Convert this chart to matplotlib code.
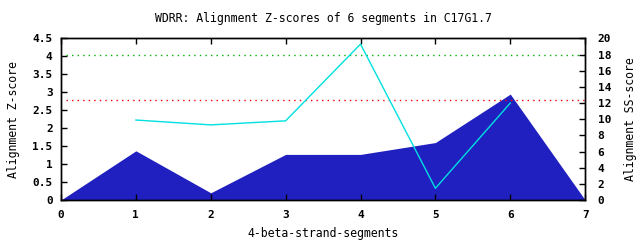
import matplotlib
matplotlib.use('Agg')
import matplotlib.pyplot as plt

# Z-scores per segment boundary (0 and 7 are the anchors)
z_x = [0, 1, 2, 3, 4, 5, 6, 7]
z_scores = [0, 1.37, 0.2, 1.27, 1.27, 1.6, 2.95, 0]

# SS-scores (right axis)
ss_x = [1, 2, 3, 4, 5, 6]
ss_scores = [9.9, 9.3, 9.8, 19.3, 1.45, 12.0]

# threshold lines (Z-score units)
green_thr = 4.04
red_thr = 2.78

plt.rcParams['font.family'] = 'DejaVu Sans Mono'
plt.rcParams['font.weight'] = 'bold'
plt.rcParams['font.size'] = 8

fig = plt.figure(figsize=(6.4, 2.4), dpi=100)
ax = fig.add_axes([0.0953, 0.1667, 0.819, 0.673])

ax.fill_between(z_x, z_scores, 0, color='#2020c0', linewidth=0)
ax.axhline(green_thr, xmin=0.01, color='#00b000', linestyle=(0, (1, 3)), linewidth=1)
ax.axhline(red_thr, xmin=0.01, color='#ff0000', linestyle=(0, (1, 3)), linewidth=1)

ax.set_xlim(0, 7)
ax.set_ylim(0, 4.5)
ax.set_xticks(range(8))
ax.set_yticks([i * 0.5 for i in range(10)])
ax.set_yticklabels(['0', '0.5', '1', '1.5', '2', '2.5', '3', '3.5', '4', '4.5'])
ax.tick_params(direction='in', length=4, top=True, width=1)
ax.tick_params(axis='x', pad=7)
ax.tick_params(axis='y', pad=6)
ax.set_xlabel('4-beta-strand-segments', labelpad=5, fontsize=8.3)
ax.set_ylabel('Alignment Z-score', fontsize=8.3, labelpad=9)
ax.set_title('WDRR: Alignment Z-scores of 6 segments in C17G1.7', pad=12, fontsize=8.3)

ax2 = ax.twinx()
ax2.plot(ss_x, ss_scores, color='#00e0e0', linewidth=1)
ax2.set_ylim(0, 20)
ax2.set_yticks(range(0, 21, 2))
ax2.tick_params(direction='in', length=4, width=1, pad=9)
ax2.set_ylabel('Alignment SS-score', labelpad=9, fontsize=8.3)

for a in (ax, ax2):
    for s in a.spines.values():
        s.set_linewidth(1)

fig.savefig('out.png', dpi=100)
